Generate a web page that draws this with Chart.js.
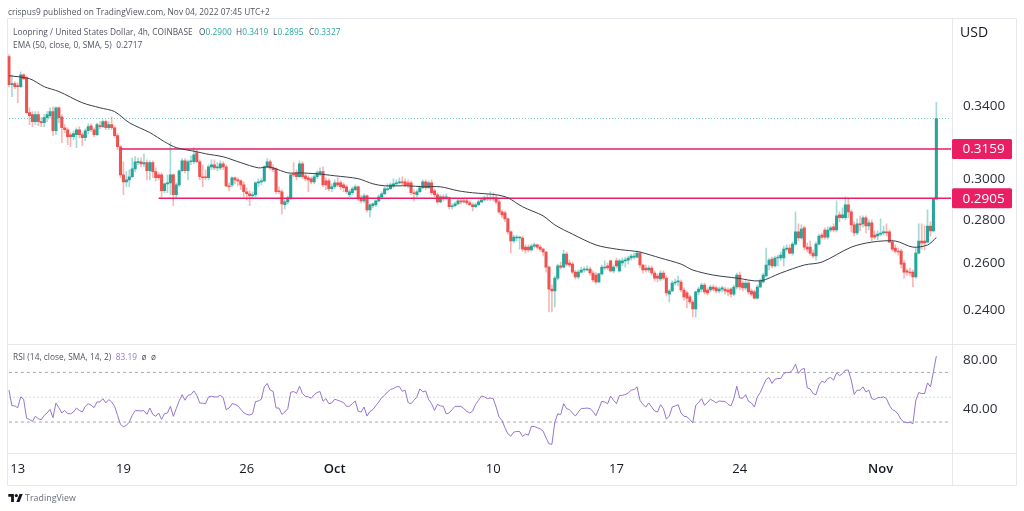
<!DOCTYPE html>
<html><head><meta charset="utf-8">
<script src="https://cdn.jsdelivr.net/npm/chart.js@4/dist/chart.umd.js"></script>
<style>
html,body{margin:0;padding:0;background:#fff;width:1024px;height:511px;overflow:hidden}
#c{position:absolute;left:0;top:0}
.t{position:absolute;white-space:pre;font-family:"Open Sans",sans-serif;font-size:8.3px;line-height:13px;color:#50535e;letter-spacing:.05px}
.g{color:#26a69a}.p{color:#9575cd}
</style></head><body>
<canvas id="c" width="1024" height="511"></canvas>
<div class="t" style="left:8px;top:5px">crispus9 published on TradingView.com, Nov 04, 2022 07:45 UTC+2</div>
<div class="t" style="left:13px;top:25px">Loopring / United States Dollar, 4h, COINBASE</div>
<div class="t" style="left:199px;top:25px">O<span class="g">0.2900</span></div>
<div class="t" style="left:236px;top:25px">H<span class="g">0.3419</span></div>
<div class="t" style="left:273px;top:25px">L<span class="g">0.2895</span></div>
<div class="t" style="left:309px;top:25px">C<span class="g">0.3327</span></div>
<div class="t" style="left:13px;top:37.5px">EMA (50, close, 0, SMA, 5)  0.2717</div>
<div class="t" style="left:13px;top:349.5px">RSI (14, close, SMA, 14, 2)  <span class="p">83.19</span>  ø  ø</div>
<div class="t" style="left:960px;top:24px;font-size:14px;line-height:16px;color:#131722">USD</div>
<svg style="position:absolute;left:8px;top:494px" width="15" height="8" viewBox="0 0 36 20"><path fill="#131722" d="M14 20H7V7H0V0h14v20zM28 20h-8L28 0h8l-8 20z"/><circle cx="20" cy="4" r="4" fill="#131722"/></svg>
<div class="t" style="left:25px;top:491.5px;font-size:8.8px;color:#6a6d78">TradingView</div>
<script>
const slotCount = 322;
const tickIndex = [3,39,81,111,165,207,249,297];
const tickText = ['13','19','26','Oct','10','17','24','Nov'];
const boldTicks = ['Oct','Nov'];
const priceTicks = [0.24,0.26,0.28,0.30,0.34];
const rsiTicks = [40,80];
const levelA = 0.3159, levelB = 0.2905, lastPrice = 0.3327;
const levelAStart = 38, levelBStart = 51;
const opens = [.3697,.3524,.3530,.3518,.3512,.3584,.3566,.3360,.3349,.3309,.3349,.3309,.3303,.3332,.3343,.3366,.3258,.3388,.3337,.3275,
.3264,.3236,.3225,.3236,.3264,.3236,.3220,.3258,.3286,.3264,.3236,.3286,.3281,.3309,.3275,.3292,.3275,.3231,.3171,.3023,
.2987,.2997,.3013,.3054,.3086,.3091,.3080,.3086,.3044,.3086,.3039,.3023,.3023,.2942,.2977,.2982,.3023,.2922,.2972,.3044,
.3096,.3044,.3091,.3091,.3139,.3091,.3013,.3013,.3008,.3064,.3075,.3059,.3059,.3080,.3064,.2967,.2972,.3008,.2997,.2992,
.2972,.2937,.2927,.2917,.2922,.2982,.2987,.2992,.3064,.3091,.3059,.3054,.2942,.2937,.2873,.2887,.2907,.3028,.3033,.3013,
.3080,.3018,.3008,.3003,.2987,.3013,.3028,.3039,.2992,.2992,.2952,.2962,.2982,.2982,.2972,.2962,.2922,.2932,.2947,.2962,
.2907,.2892,.2917,.2848,.2868,.2873,.2892,.2912,.2927,.2947,.2952,.2967,.2977,.2982,.2987,.2987,.2982,.2982,.2932,.2922,
.2937,.2957,.2987,.2957,.2982,.2942,.2922,.2887,.2912,.2907,.2907,.2863,.2868,.2877,.2892,.2892,.2892,.2882,.2873,.2863,
.2873,.2887,.2897,.2907,.2902,.2907,.2907,.2887,.2838,.2834,.2805,.2743,.2701,.2715,.2715,.2715,.2673,.2673,.2660,.2678,
.2683,.2673,.2664,.2651,.2584,.2489,.2481,.2536,.2589,.2584,.2642,.2602,.2597,.2562,.2541,.2562,.2571,.2571,.2575,.2558,
.2549,.2519,.2554,.2580,.2589,.2611,.2567,.2611,.2567,.2602,.2611,.2615,.2624,.2628,.2628,.2646,.2593,.2580,.2571,.2580,
.2558,.2545,.2532,.2558,.2536,.2468,.2481,.2515,.2519,.2519,.2485,.2473,.2456,.2435,.2406,.2477,.2489,.2506,.2485,.2485,
.2498,.2494,.2481,.2489,.2489,.2485,.2489,.2468,.2498,.2549,.2515,.2494,.2515,.2481,.2477,.2451,.2498,.2519,.2545,.2593,
.2619,.2589,.2624,.2624,.2624,.2664,.2669,.2646,.2687,.2743,.2715,.2762,.2673,.2673,.2646,.2633,.2687,.2729,.2752,.2719,
.2752,.2767,.2752,.2824,.2810,.2810,.2873,.2838,.2776,.2738,.2781,.2781,.2810,.2771,.2786,.2729,.2724,.2733,.2738,.2743,
.2743,.2696,.2669,.2655,.2655,.2602,.2567,.2562,.2562,.2541,.2646,.2701,.2701,.2696,.2771,.2748,.2900];
const closes = [.3524,.3530,.3512,.3512,.3584,.3560,.3360,.3343,.3309,.3349,.3309,.3303,.3332,.3349,.3366,.3258,.3388,.3332,.3275,.3264,
.3225,.3225,.3242,.3264,.3236,.3220,.3258,.3281,.3264,.3236,.3292,.3281,.3309,.3275,.3292,.3275,.3231,.3171,.3023,.2987,
.2997,.3013,.3054,.3091,.3091,.3080,.3086,.3044,.3086,.3039,.3008,.3008,.2942,.2977,.2982,.3023,.2922,.2972,.3044,.3096,
.3044,.3091,.3096,.3128,.3091,.3013,.3008,.3008,.3064,.3075,.3059,.3064,.3080,.3064,.2967,.2962,.3008,.2997,.2992,.2972,
.2937,.2927,.2917,.2922,.2982,.2987,.2992,.3064,.3091,.3059,.3049,.2937,.2937,.2877,.2887,.2907,.3023,.3023,.3013,.3080,
.3013,.3003,.2997,.2987,.3013,.3033,.3039,.2972,.2972,.2952,.2962,.2982,.2972,.2962,.2957,.2937,.2937,.2952,.2962,.2902,
.2892,.2917,.2848,.2873,.2877,.2892,.2912,.2927,.2952,.2952,.2972,.2977,.2982,.2987,.2982,.2972,.2972,.2932,.2927,.2937,
.2957,.2987,.2957,.2982,.2932,.2922,.2887,.2912,.2902,.2912,.2863,.2868,.2877,.2892,.2887,.2887,.2882,.2873,.2863,.2873,
.2887,.2897,.2907,.2902,.2907,.2902,.2887,.2838,.2824,.2805,.2743,.2701,.2719,.2717,.2719,.2664,.2660,.2660,.2678,.2683,
.2673,.2664,.2651,.2584,.2489,.2481,.2536,.2589,.2584,.2642,.2597,.2593,.2562,.2541,.2562,.2571,.2575,.2575,.2558,.2528,
.2519,.2554,.2584,.2584,.2580,.2567,.2584,.2589,.2611,.2611,.2615,.2624,.2633,.2633,.2646,.2593,.2571,.2571,.2580,.2558,
.2536,.2536,.2558,.2536,.2473,.2481,.2515,.2519,.2524,.2485,.2456,.2451,.2435,.2406,.2477,.2489,.2506,.2477,.2473,.2498,
.2489,.2481,.2489,.2494,.2481,.2477,.2468,.2498,.2549,.2498,.2494,.2515,.2477,.2468,.2451,.2498,.2524,.2549,.2593,.2615,
.2589,.2624,.2626,.2637,.2664,.2669,.2646,.2687,.2743,.2715,.2757,.2673,.2664,.2646,.2633,.2687,.2724,.2719,.2719,.2752,
.2762,.2752,.2819,.2810,.2824,.2873,.2838,.2776,.2738,.2781,.2776,.2810,.2771,.2786,.2719,.2719,.2733,.2738,.2743,.2738,
.2696,.2664,.2655,.2651,.2597,.2562,.2562,.2558,.2541,.2646,.2701,.2692,.2692,.2771,.2748,.2902,.3327];
const highs = [.3709,.3584,.3542,.3536,.3602,.3590,.3578,.3388,.3366,.3366,.3366,.3332,.3349,.3366,.3388,.3394,.3394,.3394,.3349,.3292,
.3275,.3247,.3258,.3275,.3281,.3247,.3269,.3297,.3297,.3275,.3303,.3309,.3320,.3320,.3309,.3337,.3286,.3242,.3177,.3091,
.3039,.3049,.3112,.3118,.3112,.3112,.3133,.3101,.3096,.3096,.3059,.3033,.3033,.2982,.3023,.3193,.3028,.2982,.3049,.3107,
.3107,.3101,.3122,.3166,.3155,.3101,.3075,.3049,.3075,.3101,.3101,.3086,.3096,.3091,.3075,.2982,.3013,.3013,.3008,.2997,
.2987,.2957,.2942,.2937,.2987,.3003,.3003,.3070,.3107,.3101,.3075,.3059,.2962,.2947,.2897,.2917,.3028,.3086,.3049,.3096,
.3091,.3028,.3018,.3013,.3023,.3044,.3059,.3064,.3008,.3003,.2977,.2997,.3008,.2992,.2982,.2972,.2947,.2962,.2972,.2967,
.2917,.2927,.2922,.2877,.2882,.2897,.2922,.2937,.2962,.2977,.2982,.3003,.2997,.3008,.3013,.3003,.2997,.2992,.2947,.2947,
.2967,.2997,.2997,.2992,.2997,.2952,.2932,.2922,.2922,.2927,.2912,.2877,.2887,.2902,.2902,.2902,.2902,.2892,.2882,.2882,
.2897,.2907,.2917,.2922,.2937,.2932,.2922,.2897,.2848,.2843,.2810,.2748,.2729,.2729,.2724,.2724,.2683,.2683,.2687,.2692,
.2687,.2683,.2669,.2655,.2589,.2506,.2545,.2597,.2606,.2660,.2651,.2615,.2606,.2571,.2571,.2584,.2584,.2589,.2584,.2567,
.2562,.2558,.2593,.2611,.2602,.2615,.2593,.2624,.2619,.2624,.2628,.2633,.2642,.2646,.2655,.2651,.2597,.2593,.2589,.2589,
.2567,.2554,.2567,.2567,.2545,.2489,.2524,.2532,.2545,.2528,.2494,.2481,.2464,.2443,.2481,.2498,.2515,.2515,.2494,.2506,
.2506,.2502,.2498,.2502,.2498,.2494,.2494,.2506,.2558,.2562,.2524,.2524,.2524,.2489,.2485,.2506,.2532,.2558,.2669,.2624,
.2628,.2633,.2637,.2651,.2678,.2683,.2683,.2696,.2838,.2781,.2776,.2771,.2692,.2701,.2660,.2696,.2733,.2738,.2762,.2767,
.2771,.2781,.2892,.2838,.2858,.2912,.2907,.2848,.2791,.2805,.2819,.2819,.2819,.2800,.2800,.2748,.2748,.2805,.2771,.2781,
.2752,.2706,.2683,.2669,.2664,.2611,.2575,.2580,.2571,.2673,.2781,.2781,.2771,.2848,.2791,.2907,.3419];
const lows = [.3512,.3452,.3500,.3417,.3506,.3554,.3354,.3292,.3281,.3292,.3286,.3281,.3281,.3309,.3332,.3231,.3236,.3303,.3193,.3247,
.3182,.3171,.3209,.3166,.3220,.3177,.3204,.3242,.3253,.3225,.3231,.3269,.3275,.3264,.3264,.3264,.3220,.3155,.3008,.2922,
.2962,.2962,.3008,.3039,.3075,.3064,.3064,.2997,.2997,.3008,.2992,.2997,.2912,.2932,.2932,.2922,.2868,.2907,.2962,.3039,
.3033,.2997,.3075,.3080,.3086,.2997,.2962,.2997,.2997,.3049,.3049,.3044,.3049,.3049,.2962,.2942,.2962,.2977,.2967,.2947,
.2912,.2897,.2868,.2907,.2912,.2962,.2972,.2987,.3059,.3049,.3039,.2927,.2927,.2829,.2853,.2877,.2897,.3013,.2997,.3008,
.3003,.2992,.2937,.2977,.2977,.3003,.3018,.2962,.2947,.2942,.2937,.2952,.2962,.2947,.2937,.2927,.2912,.2922,.2942,.2892,
.2882,.2882,.2838,.2814,.2858,.2863,.2887,.2907,.2922,.2942,.2947,.2957,.2967,.2977,.2972,.2962,.2957,.2922,.2892,.2912,
.2932,.2952,.2947,.2952,.2922,.2912,.2877,.2882,.2892,.2897,.2853,.2853,.2863,.2873,.2877,.2882,.2873,.2868,.2843,.2858,
.2868,.2882,.2892,.2892,.2892,.2892,.2877,.2829,.2810,.2791,.2733,.2646,.2692,.2701,.2664,.2655,.2646,.2651,.2655,.2669,
.2664,.2655,.2633,.2562,.2394,.2394,.2415,.2528,.2575,.2580,.2589,.2584,.2554,.2532,.2532,.2558,.2562,.2567,.2549,.2519,
.2511,.2515,.2549,.2571,.2571,.2562,.2558,.2580,.2562,.2589,.2584,.2597,.2615,.2619,.2624,.2580,.2558,.2562,.2562,.2549,
.2524,.2519,.2524,.2528,.2460,.2435,.2477,.2506,.2502,.2477,.2443,.2410,.2427,.2374,.2374,.2464,.2477,.2468,.2464,.2477,
.2481,.2473,.2473,.2477,.2468,.2460,.2456,.2460,.2489,.2485,.2481,.2485,.2468,.2460,.2447,.2447,.2494,.2515,.2541,.2571,
.2580,.2584,.2589,.2615,.2589,.2655,.2642,.2637,.2683,.2701,.2710,.2660,.2651,.2637,.2624,.2615,.2683,.2710,.2710,.2710,
.2743,.2743,.2743,.2791,.2805,.2800,.2810,.2743,.2724,.2729,.2748,.2767,.2738,.2752,.2701,.2710,.2706,.2724,.2729,.2724,
.2692,.2655,.2646,.2637,.2580,.2536,.2549,.2545,.2498,.2536,.2642,.2664,.2660,.2692,.2724,.2743,.2895];
const emaIndex = [0,7,12,17,25,31,36,41,48,53,57,64,67,73,79,85,88,90,95,99,105,111,119,124,128,136,141,147,153,158,166,170,175,182,186,192,200,207,213,215,222,229,233,240,248,256,263,271,277,287,294,302,308,313,316];
const emaValue = [.3578,.3560,.3512,.3483,.3417,.3388,.3366,.3303,.3248,.3198,.3166,.3144,.3133,.3117,.3086,.3059,.3064,.3059,.3033,.3033,.3028,.3018,.3003,.2977,.2967,.2967,.2962,.2962,.2942,.2932,.2922,.2907,.2863,.2819,.2776,.2733,.2683,.2664,.2655,.2651,.2624,.2597,.2571,.2549,.2536,.2524,.2558,.2593,.2606,.2673,.2696,.2701,.2673,.2683,.2717];
const rsiValue = [55.7,43.2,43,41.6,50.3,48.4,33,32.1,30.5,34.6,32.7,31.9,35.4,37.3,40.2,33.5,45.4,41.6,37.3,39.4,
36.7,36.7,38.1,41.3,39.4,38.1,42.7,44.8,43.5,41.6,46.2,46.2,48.9,45.4,48.1,46.2,42.7,35.4,28.1,26.2,
27.3,30,35.4,39.2,39.2,38.9,39.2,36.2,41.3,36.2,34.6,37.3,32.1,36.7,37.3,42.7,34.6,40.8,47,52.1,
47.6,51.6,52.1,55.1,51.6,45.4,45.1,44.8,50.3,50.8,50.3,50.3,51.6,49.7,40,41.3,44.8,44.3,43,40.2,
37.5,36.2,35.6,36.7,46.5,47,48.4,58.4,61.1,55.7,54.8,41.3,41.3,36.2,38.1,40.8,54,54.6,53.2,58.9,
53,50.8,50.3,49.2,52.1,53.8,54.6,46.7,48.9,44.8,45.4,48.4,47.6,46.7,45.7,42.7,42.7,44.8,47,38.6,
38.1,42.1,34.8,38.6,40,43.2,46.2,49.7,51.6,54.3,56.2,57,58.4,58.6,54.8,55.7,45.7,44.8,47.6,50.3,
56.7,54.3,55.1,48.1,44.8,39.4,44.3,43,42.7,36.5,37.3,40,42.7,42.7,42.7,40.8,38.6,37.3,38.9,44.3,
47.6,51,50.3,48.9,49.4,48.9,42.1,34,31.3,25.4,20.5,18.6,21.9,22.4,22.4,18.4,20.3,19.4,26.5,26.5,
25.4,24.6,22.7,17.3,12.4,12.1,30,36.7,35.9,44.8,40.8,40,37.3,34.8,38.1,41,41,41.3,40.8,38.6,
35.1,40.8,46.7,46.2,44.8,51,47.6,44.8,51.3,51.6,52.1,53.5,55.7,56.2,58.4,47.6,44.3,42.1,45.4,42.1,
38.9,38.1,44,40.8,32.4,34.8,42.1,43,44,37.3,34.6,34.3,32.1,29.4,43.5,45.7,48.9,43.5,45.7,48.4,
47,45.4,47,46.7,46.7,44.3,43,48.9,58.9,49.4,49.2,52.1,46.7,45.4,42.1,50.3,53.8,59.2,64.3,65.9,
61.1,64.6,65.1,65.1,69.2,70,70,71.9,76.7,69.2,72.4,73.2,57.6,56.7,53,52.1,59.7,63,61.9,65.1,
65.9,63.8,69.7,67.3,69.2,71.9,71.9,63.8,52.4,55.7,55.7,58.4,54.3,55.7,48.9,48.1,49.7,49.7,50.3,48.9,
43.5,40,38.9,36.2,31.9,30,29.4,30,28.6,47.6,53.8,53,53,61.6,58.4,70.5,83.19];
const rsiBands = [70,50,30];

const UP='#26a69a', DOWN='#ef5350', UPW='rgba(38,166,154,.42)', DOWNW='rgba(239,83,80,.42)', PINK='#e91e63';
const labels = Array.from({length:slotCount},(_,i)=>String(i));
const isUp = closes.map((c,i)=>c>=opens[i]);
const ema = new Array(slotCount).fill(null);
emaIndex.forEach((ix,k)=>{ema[ix]=emaValue[k]});
const levelLine = (v,start)=>labels.map((_,i)=>i>=start?v:null);

const frame = {id:'frame',beforeDraw(ch){
  const c=ch.ctx; c.save(); c.strokeStyle='#e6e8ee'; c.lineWidth=1; c.beginPath();
  const L=7.5,T=18.5,R=952.5,O=1016.5,B=485.5;
  c.rect(L,T,O-L,B-T);
  c.moveTo(R,T);c.lineTo(R,B);
  c.moveTo(L,344.5);c.lineTo(O,344.5);
  c.moveTo(L,453.5);c.lineTo(O,453.5);
  c.stroke(); c.restore();
}};
const boxes = {id:'boxes',afterDraw(ch){
  const c=ch.ctx, s=ch.scales.y; c.save();
  [levelA,levelB].forEach(v=>{
    const y=s.getPixelForValue(v);
    c.fillStyle=PINK; c.beginPath(); c.roundRect(952,y-10,60,20,1.5); c.fill();
    c.fillStyle='#fff'; c.font='13.5px "Open Sans",sans-serif'; c.textAlign='left'; c.textBaseline='middle';
    c.fillText(v.toFixed(4),962.5,y+.5);
  });
  c.restore();
}};

new Chart(document.getElementById('c'),{
  data:{labels,datasets:[
    {type:'bar',label:'wick',xAxisID:'x',yAxisID:'y',order:6,grouped:false,barThickness:1,
     data:lows.map((l,i)=>[l,highs[i]]),backgroundColor:isUp.map(u=>u?UPW:DOWNW)},
    {type:'bar',label:'body',xAxisID:'x',yAxisID:'y',order:5,grouped:false,barThickness:2.4,minBarLength:1,
     data:opens.map((o,i)=>[o,closes[i]]),backgroundColor:isUp.map(u=>u?UP:DOWN)},
    {type:'line',label:'last',yAxisID:'y',order:4,data:levelLine(lastPrice,0),borderColor:'rgba(38,166,154,.7)',borderWidth:1,borderDash:[1,2],pointRadius:0},
    {type:'line',label:'0.3159',yAxisID:'y',order:3,data:levelLine(levelA,levelAStart),borderColor:PINK,borderWidth:1.4,pointRadius:0},
    {type:'line',label:'0.2905',yAxisID:'y',order:3,data:levelLine(levelB,levelBStart),borderColor:PINK,borderWidth:1.4,pointRadius:0},
    {type:'line',label:'EMA',yAxisID:'y',order:2,data:ema,spanGaps:true,tension:.3,borderColor:'#3a3e49',borderWidth:1,pointRadius:0},
    {type:'line',label:'RSI70',yAxisID:'rsi',order:4,data:levelLine(rsiBands[0],0),borderColor:'#a3a6af',borderWidth:1,borderDash:[3,3],pointRadius:0},
    {type:'line',label:'RSI50',yAxisID:'rsi',order:4,data:levelLine(rsiBands[1],0),borderColor:'#d6d8de',borderWidth:1,borderDash:[2,2],pointRadius:0},
    {type:'line',label:'RSI30',yAxisID:'rsi',order:4,data:levelLine(rsiBands[2],0),borderColor:'#a3a6af',borderWidth:1,borderDash:[3,3],pointRadius:0},
    {type:'line',label:'RSI',yAxisID:'rsi',order:2,data:rsiValue,borderColor:'#9575cd',borderWidth:1,pointRadius:0,tension:0}
  ]},
  options:{
    responsive:false,animation:false,devicePixelRatio:1,
    layout:{padding:{left:7.5,top:18.5,right:7.5,bottom:25.5}},
    plugins:{legend:{display:false},tooltip:{enabled:false},title:{display:false}},
    scales:{
      x:{type:'category',offset:true,position:'bottom',
        grid:{display:false,drawTicks:false},border:{display:false},
        afterBuildTicks:s=>{s.ticks=tickIndex.map(v=>({value:v}))},
        afterFit:s=>{s.height=32},
        ticks:{autoSkip:false,maxRotation:0,padding:8,color:'#131722',
          callback:(v)=>tickText[tickIndex.indexOf(v)]||'',
          font:(ctx)=>{const t=tickText[tickIndex.indexOf(ctx.tick&&ctx.tick.value)];
            return {family:'"Open Sans",sans-serif',size:13,weight:boldTicks.includes(t)?'600':'400'}}}},
      y:{type:'logarithmic',position:'right',stack:'panes',stackWeight:326,min:.2265,max:.3943,
        grid:{display:false,drawTicks:false},border:{display:false},
        afterBuildTicks:s=>{s.ticks=priceTicks.map(v=>({value:v}))},
        afterFit:s=>{s.width=64},
        ticks:{padding:10.5,color:'#2a2e39',callback:v=>Number(v).toFixed(4),font:{family:'"Open Sans",sans-serif',size:13.5}}},
      rsi:{axis:'y',type:'linear',position:'right',stack:'panes',stackWeight:109,min:4.65,max:92.5,
        grid:{display:false,drawTicks:false},border:{display:false},
        afterBuildTicks:s=>{s.ticks=rsiTicks.map(v=>({value:v}))},
        afterFit:s=>{s.width=64},
        ticks:{padding:10.5,color:'#2a2e39',callback:v=>Number(v).toFixed(2),font:{family:'"Open Sans",sans-serif',size:13.5}}}
    }
  },
  plugins:[frame,boxes]
});
</script></body></html>
